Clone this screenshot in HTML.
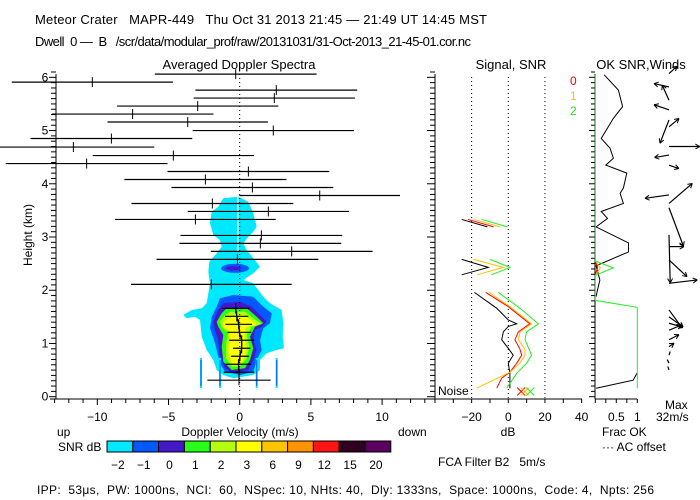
<!DOCTYPE html>
<html><head><meta charset="utf-8"><style>
body{margin:0;background:#fff}
svg{display:block;font-family:"Liberation Sans",sans-serif}
text{fill:#000;white-space:pre}
</style></head><body>
<svg id="c" width="700" height="500" viewBox="0 0 700 500" xml:space="preserve">
<text x="35" y="24" font-size="13" textLength="452">Meteor Crater   MAPR-449   Thu Oct 31 2013 21:45 — 21:49 UT 14:45 MST</text>
<text x="35" y="46" font-size="13" textLength="436">Dwell  0 —  B   /scr/data/modular_prof/raw/20131031/31-Oct-2013_21-45-01.cor.nc</text>
<text x="239" y="69" font-size="13" text-anchor="middle">Averaged Doppler Spectra</text>
<text x="511" y="69" font-size="13" text-anchor="middle">Signal, SNR</text>
<text x="641" y="69" font-size="13" text-anchor="middle">OK SNR,Winds</text>
<text x="570" y="85" font-size="12" style="fill:#f00">0</text>
<text x="570" y="100" font-size="12" style="fill:#ffc000">1</text>
<text x="570" y="115" font-size="12" style="fill:#20e020">2</text>
<text transform="translate(32,235) rotate(-90)" font-size="12" text-anchor="middle">Height (km)</text>
<text x="240" y="436" font-size="12" text-anchor="middle">Doppler Velocity (m/s)</text>
<text x="57" y="436" font-size="12">up</text>
<text x="398" y="436" font-size="12">down</text>
<text x="508" y="436" font-size="12" text-anchor="middle">dB</text>
<text x="602" y="436" font-size="12">Frac OK</text>
<text x="602" y="451" font-size="12">··· AC offset</text>
<text x="665" y="409" font-size="12">Max</text>
<text x="656" y="421" font-size="12">32m/s</text>
<text x="58" y="451" font-size="12">SNR dB</text>
<text x="438" y="466" font-size="12">FCA Filter B2   5m/s</text>
<text x="37" y="494" font-size="12" textLength="617">IPP:  53μs,  PW: 1000ns,  NCI:  60,  NSpec: 10, NHts: 40,  Dly: 1333ns,  Space: 1000ns,  Code: 4,  Npts: 256</text>
<text x="438" y="395" font-size="12">Noise</text>
<g id="blob"></g>
<g id="g"></g>
</svg>
<script>
// ---- data ----
const gateHeights=[6.06,5.91,5.76,5.61,5.46,5.31,5.16,5.00,4.85,4.69,4.53,4.38,4.23,4.08,3.93,3.78,3.63,3.48,3.33,3.03,2.88,2.73,2.58,2.11,1.66,1.51,1.36,1.21,1.06,0.91,0.76,0.61,0.46,0.31];
const meanVel=[-0.28,-10.35,2.57,2.43,-2.95,-7.52,-3.65,2.36,-9.01,-11.68,-4.66,-10.75,0.61,-2.41,0.89,5.62,-1.92,2.01,-3.11,1.52,1.45,3.65,-0.16,-1.99,-0.28,-0.21,-0.07,-0.02,0.14,0.14,0.02,-0.09,-0.05,-0.05];
const specWidth=[5.68,5.66,5.68,5.66,5.66,5.68,5.63,5.66,5.68,5.68,5.66,5.68,5.68,5.69,5.68,5.64,5.68,5.66,5.64,5.68,5.68,5.68,5.68,5.64,0.97,0.82,0.94,0.84,0.88,0.61,0.62,0.9,1.08,2.22];
const sigHeights=[1.96,1.66,1.44,1.37,1.32,1.22,1.07,0.91,0.78,0.63,0.44,0.16];
const sigBlack=[-18.5,-6.3,0,4.6,0,-2.7,-3.6,0,2.7,0,0.9,0.9];
const redHeights=[1.96,1.69,1.37,1.22,1.07,0.89,0.78,0.63,0.46,0.35,0.16];
const snrRed=[-12.3,0,11.8,5.5,3.6,6.4,7.3,4.6,0.9,-3.6,-6.3];
const orangeHeights=[1.96,1.69,1.37,1.22,1.07,0.89,0.78,0.63,0.46,0.16];
const snrOrange=[-10.5,0.9,12.7,6.4,5.5,9.1,9.1,6.4,0.9,-17.3];
const greenHeights=[1.96,1.66,1.37,1.22,1.07,0.78,0.63,0.44,0.16];
const snrGreen=[-5.5,6.4,16.4,10,9.1,12.7,10,4.6,-0.9];
const chevHeights=[2.58,2.43,2.29];
const chevBlack=[-25.4,-10.9,-25.4];
const chevOrange=[-19,-2.7,-17];
const chevGreen=[-10,0.9,-9.1];
const fracHeights=[6.05,5.76,5.45,5.23,4.85,4.67,4.48,4.35,4.20,3.92,3.82,3.63,3.48,3.35,3.19,2.89,2.72,2.46,2.19,2.0,1.88,0.16,0.31,0.45];
const fracBlack=[0.21,0.55,0.65,0.43,0.14,0.35,0.43,0.25,0.75,0.67,0.59,0.67,0.14,0.29,0.02,0.79,0.79,0.02,0.11,0.05,0.02,0.02,0.9,1.0];
const okHeights=[6.05,2.55,2.42,2.28,1.81,1.68,0.16];
const okGreen=[0,0,0.43,0,0,1,1];
const windHeights=[6.07,5.82,5.57,5.39,5.07,5.2,4.70,4.54,4.35,3.79,3.63,3.55,3.04,2.82,2.57,2.13,1.63,1.50,1.38,1.25,1.07,0.94,0.78,0.63,0.5];
const windU=[6.7,-12.5,-5.6,-12.5,8.3,-7.5,25.6,-12,8.3,-20,19.4,12,1,12.5,15,23.6,11,11.7,11.7,10.3,8.3,4.2,1,-1.5,-1];
const windV=[6.1,2.8,12.5,4.2,6.9,-19.4,0,-2,-2.8,-2.8,16.7,-32,-40,0,-14,2.8,-15,-8.3,-3.3,4.2,4.2,2.8,3,3,3];
const cbLabels=["−2","−1","0","1","2","3","6","9","12","15","20"];
const cbColors=["#00e8ff","#0058ff","#4418c8","#28ff18","#b4ff10","#ffff00","#ffc400","#ff9400","#ff1414","#300020","#5c0060"];
// ---- scales ----
const yH=h=>396.7-h*53.23;
const xV=v=>239.7+v*14.24;
const xDB=d=>508.3+d*1.833;
const xF=f=>595.3+f*42;
const NS="http://www.w3.org/2000/svg";
const G=document.getElementById('g');
function el(t,a,p){const e=document.createElementNS(NS,t);for(const k in a)e.setAttribute(k,a[k]);(p||G).appendChild(e);return e;}
function line(x1,y1,x2,y2,s,w,extra){return el('line',Object.assign({x1,y1,x2,y2,stroke:s||'#000','stroke-width':w||1},extra||{}));}
// ---- contour blob (zoom coords -> px) ----
const B=document.getElementById('blob');
function poly(pts,fill){const p=el('polygon',{points:pts.map((v,i)=>i%2?(50+v/3).toFixed(1):(v/3).toFixed(1)).reduce((a,v,i)=>a+(i%2?','+v+' ':v),''),fill},B);return p;}
const cy=poly([670,445,715,440,745,455,760,490,770,530,760,545,745,560,730,580,740,600,760,625,780,650,760,670,730,690,760,700,790,740,810,760,845,780,850,820,848,860,852,895,830,900,800,910,780,930,780,960,760,975,700,985,670,975,650,960,640,930,620,900,605,860,600,810,585,800,560,805,550,795,575,780,605,775,620,760,625,730,630,700,625,665,628,635,650,610,665,590,660,570,640,555,630,520,635,485,655,470],cbColors[0]);

const bl=poly([660,745,700,735,760,740,790,770,815,790,810,820,790,835,780,870,785,900,770,930,760,965,720,975,675,965,660,940,645,880,630,835,635,800,650,770],cbColors[1]);

el('ellipse',{cx:235,cy:268.3,rx:14,ry:4.5,fill:cbColors[1]},B);
el('ellipse',{cx:233.5,cy:268.3,rx:8,ry:2,fill:cbColors[2]},B);
const pu=poly([670,760,720,755,755,770,780,795,800,815,785,830,765,840,760,870,770,900,760,930,745,960,700,970,675,955,660,915,655,870,645,840,640,815,655,780],cbColors[2]);

const gr=poly([680,775,740,775,770,800,790,820,765,830,750,860,760,895,750,930,735,955,695,960,670,935,665,890,670,855,655,830,650,815,665,790],cbColors[3]);

const yg=poly([690,785,735,785,760,805,785,822,755,830,740,855,748,890,740,925,720,950,695,950,678,925,678,880,685,850,665,830,660,815,675,795],cbColors[4]);

const ye=poly([700,800,730,795,755,812,770,825,740,830,732,860,740,895,730,930,715,945,695,940,685,910,688,870,690,845,670,832,670,818,685,805],cbColors[5]);

el('rect',{x:237,y:196,width:1.5,height:55,fill:'#fff'},B);
[201,220,256.7,276.7].forEach(x=>{el('rect',{x:x-1,y:358,width:2,height:30,fill:cbColors[0]},B);el('rect',{x:x-0.5,y:360,width:1,height:26,fill:cbColors[1]},B);});
// ---- main axes ----
line(56,74,56,399);line(435,74,435,399);line(50,399,435,399);
for(let i=0;i<=61;i++){const y=yH(i/10);const maj=i%10==0;line(maj?49:51,y,56,y);line(maj?427:430,y,435,y);}
for(let h=0;h<=6;h++){const t=el('text',{x:45,y:yH(h)+4,'font-size':12,'text-anchor':'middle'});t.textContent=h;

}
for(let v=-13;v<=13;v++){line(xV(v),399,xV(v),v%5==0?405:403);}
[-10,-5,0,5,10].forEach(v=>{const t=el('text',{x:xV(v),y:421,'font-size':12,'text-anchor':'middle'});t.textContent=(v<0?'−':'')+Math.abs(v);

});
line(xV(0),74,xV(0),399,'#000',1,{'stroke-dasharray':'1,3'});
// spectra moments
const clip=el('clipPath',{id:'cp'});el('rect',{x:0,y:60,width:435,height:340},clip);
const mg=el('g',{'clip-path':'url(#cp)'});
gateHeights.forEach((h,i)=>{const y=yH(h);
const l=line(xV(meanVel[i]-specWidth[i]),y,xV(meanVel[i]+specWidth[i]),y,'#000',1.2);l.remove();mg.appendChild(l);


const tk=line(xV(meanVel[i]),y-5,xV(meanVel[i]),y+5);tk.remove();mg.appendChild(tk);

});
const lowIdx=gateHeights.map((h,i)=>i).filter(i=>gateHeights[i]<1.8);
el('polyline',{points:lowIdx.map(i=>xV(meanVel[i])+','+yH(gateHeights[i])).join(' '),fill:'none',stroke:'#000','stroke-width':1.2});
// ---- signal panel ----
line(420,399,582,399);
for(let d=-40;d<=40;d+=10)line(xDB(d),399,xDB(d),403);
[-20,0,20].forEach(d=>line(xDB(d),77,xDB(d),399,'#000',1,{'stroke-dasharray':'1,3'}));
[-20,0,20,40].forEach(d=>{const t=el('text',{x:xDB(d),y:421,'font-size':12,'text-anchor':'middle'});t.textContent=(d<0?'−':'')+Math.abs(d);

});
function series(hs,vals,fx,color,name){const p=el('polyline',{points:hs.map((h,i)=>fx(vals[i]).toFixed(1)+','+yH(h).toFixed(1)).join(' '),fill:'none',stroke:color,'stroke-width':1});

return p;}
series(sigHeights,sigBlack,xDB,'#000','signal-line');
series(redHeights,snrRed,xDB,'#ff0000','snr-line-0');
series(orangeHeights,snrOrange,xDB,'#ffc000','snr-line-1');
series(greenHeights,snrGreen,xDB,'#20f020','snr-line-2');
series(chevHeights,chevBlack,xDB,'#000','signal-chevron');
series(chevHeights,chevOrange,xDB,'#ffc000','snr-chevron-1');
series(chevHeights,chevGreen,xDB,'#20f020','snr-chevron-2');
[['#000',-25.4],['#f00',-22],['#ffc000',-18.5],['#20f020',-14.5]].forEach(([c,d])=>line(xDB(d),yH(3.33),xDB(d+14),yH(3.19),c));
[['#f00',7],['#ffc000',9],['#20f020',12]].forEach(([c,d])=>{const x=xDB(d),y=391.5;line(x-4,y-4,x+4,y+4,c);line(x-4,y+4,x+4,y-4,c);});
// ---- wind/frac panel ----
line(595,74,595,399);line(595,399,637,399);
for(let i=0;i<=61;i++){const y=yH(i/10);line(i%10==0?589:591,y,595,y);}
for(let f=0;f<=1.001;f+=0.25)line(xF(f),399,xF(f),403);
[['0.5',0.5],['1',1]].forEach(([s,f])=>{const t=el('text',{x:xF(f),y:421,'font-size':12,'text-anchor':'middle'});t.textContent=s;

});
series(fracHeights.slice(0,21),fracBlack.slice(0,21),xF,'#000','frac-line-upper');
series(fracHeights.slice(21),fracBlack.slice(21),xF,'#000','frac-line-lower');
line(595,yH(1.88),595,yH(0.16),'#000');
series(okHeights,okGreen,xF,'#20f020','ok-snr-line');
series([2.55,2.42,2.28],[0,0.12,0],xF,'#ffc000','ok-snr-line-1');
series([2.53,2.43,2.3],[0,0.06,0],xF,'#f00','ok-snr-line-0');
const ws=1.2,wx=669;
windHeights.forEach((h,i)=>{const x0=wx,y0=yH(h),x1=x0+windU[i]*ws,y1=y0-windV[i]*ws;
const a=line(x0,y0,x1,y1,'#000',1.2);


const ang=Math.atan2(y1-y0,x1-x0),L=Math.hypot(x1-x0,y1-y0);if(L>6){[2.6,-2.6].forEach(s=>line(x1,y1,x1-5*Math.cos(ang+s/5),y1-5*Math.sin(ang+s/5)));}});
// ---- colorbar ----
const cw=25.8,cx0=107;
cbColors.forEach((c,i)=>{const r=el('rect',{x:cx0+i*cw,y:441,width:cw,height:11,fill:c,stroke:'#000','stroke-width':1});


const t=el('text',{x:cx0+i*cw+cw/2-2,y:469,'font-size':12,'text-anchor':'middle'});t.textContent=cbLabels[i];

});
</script>
</body></html>
